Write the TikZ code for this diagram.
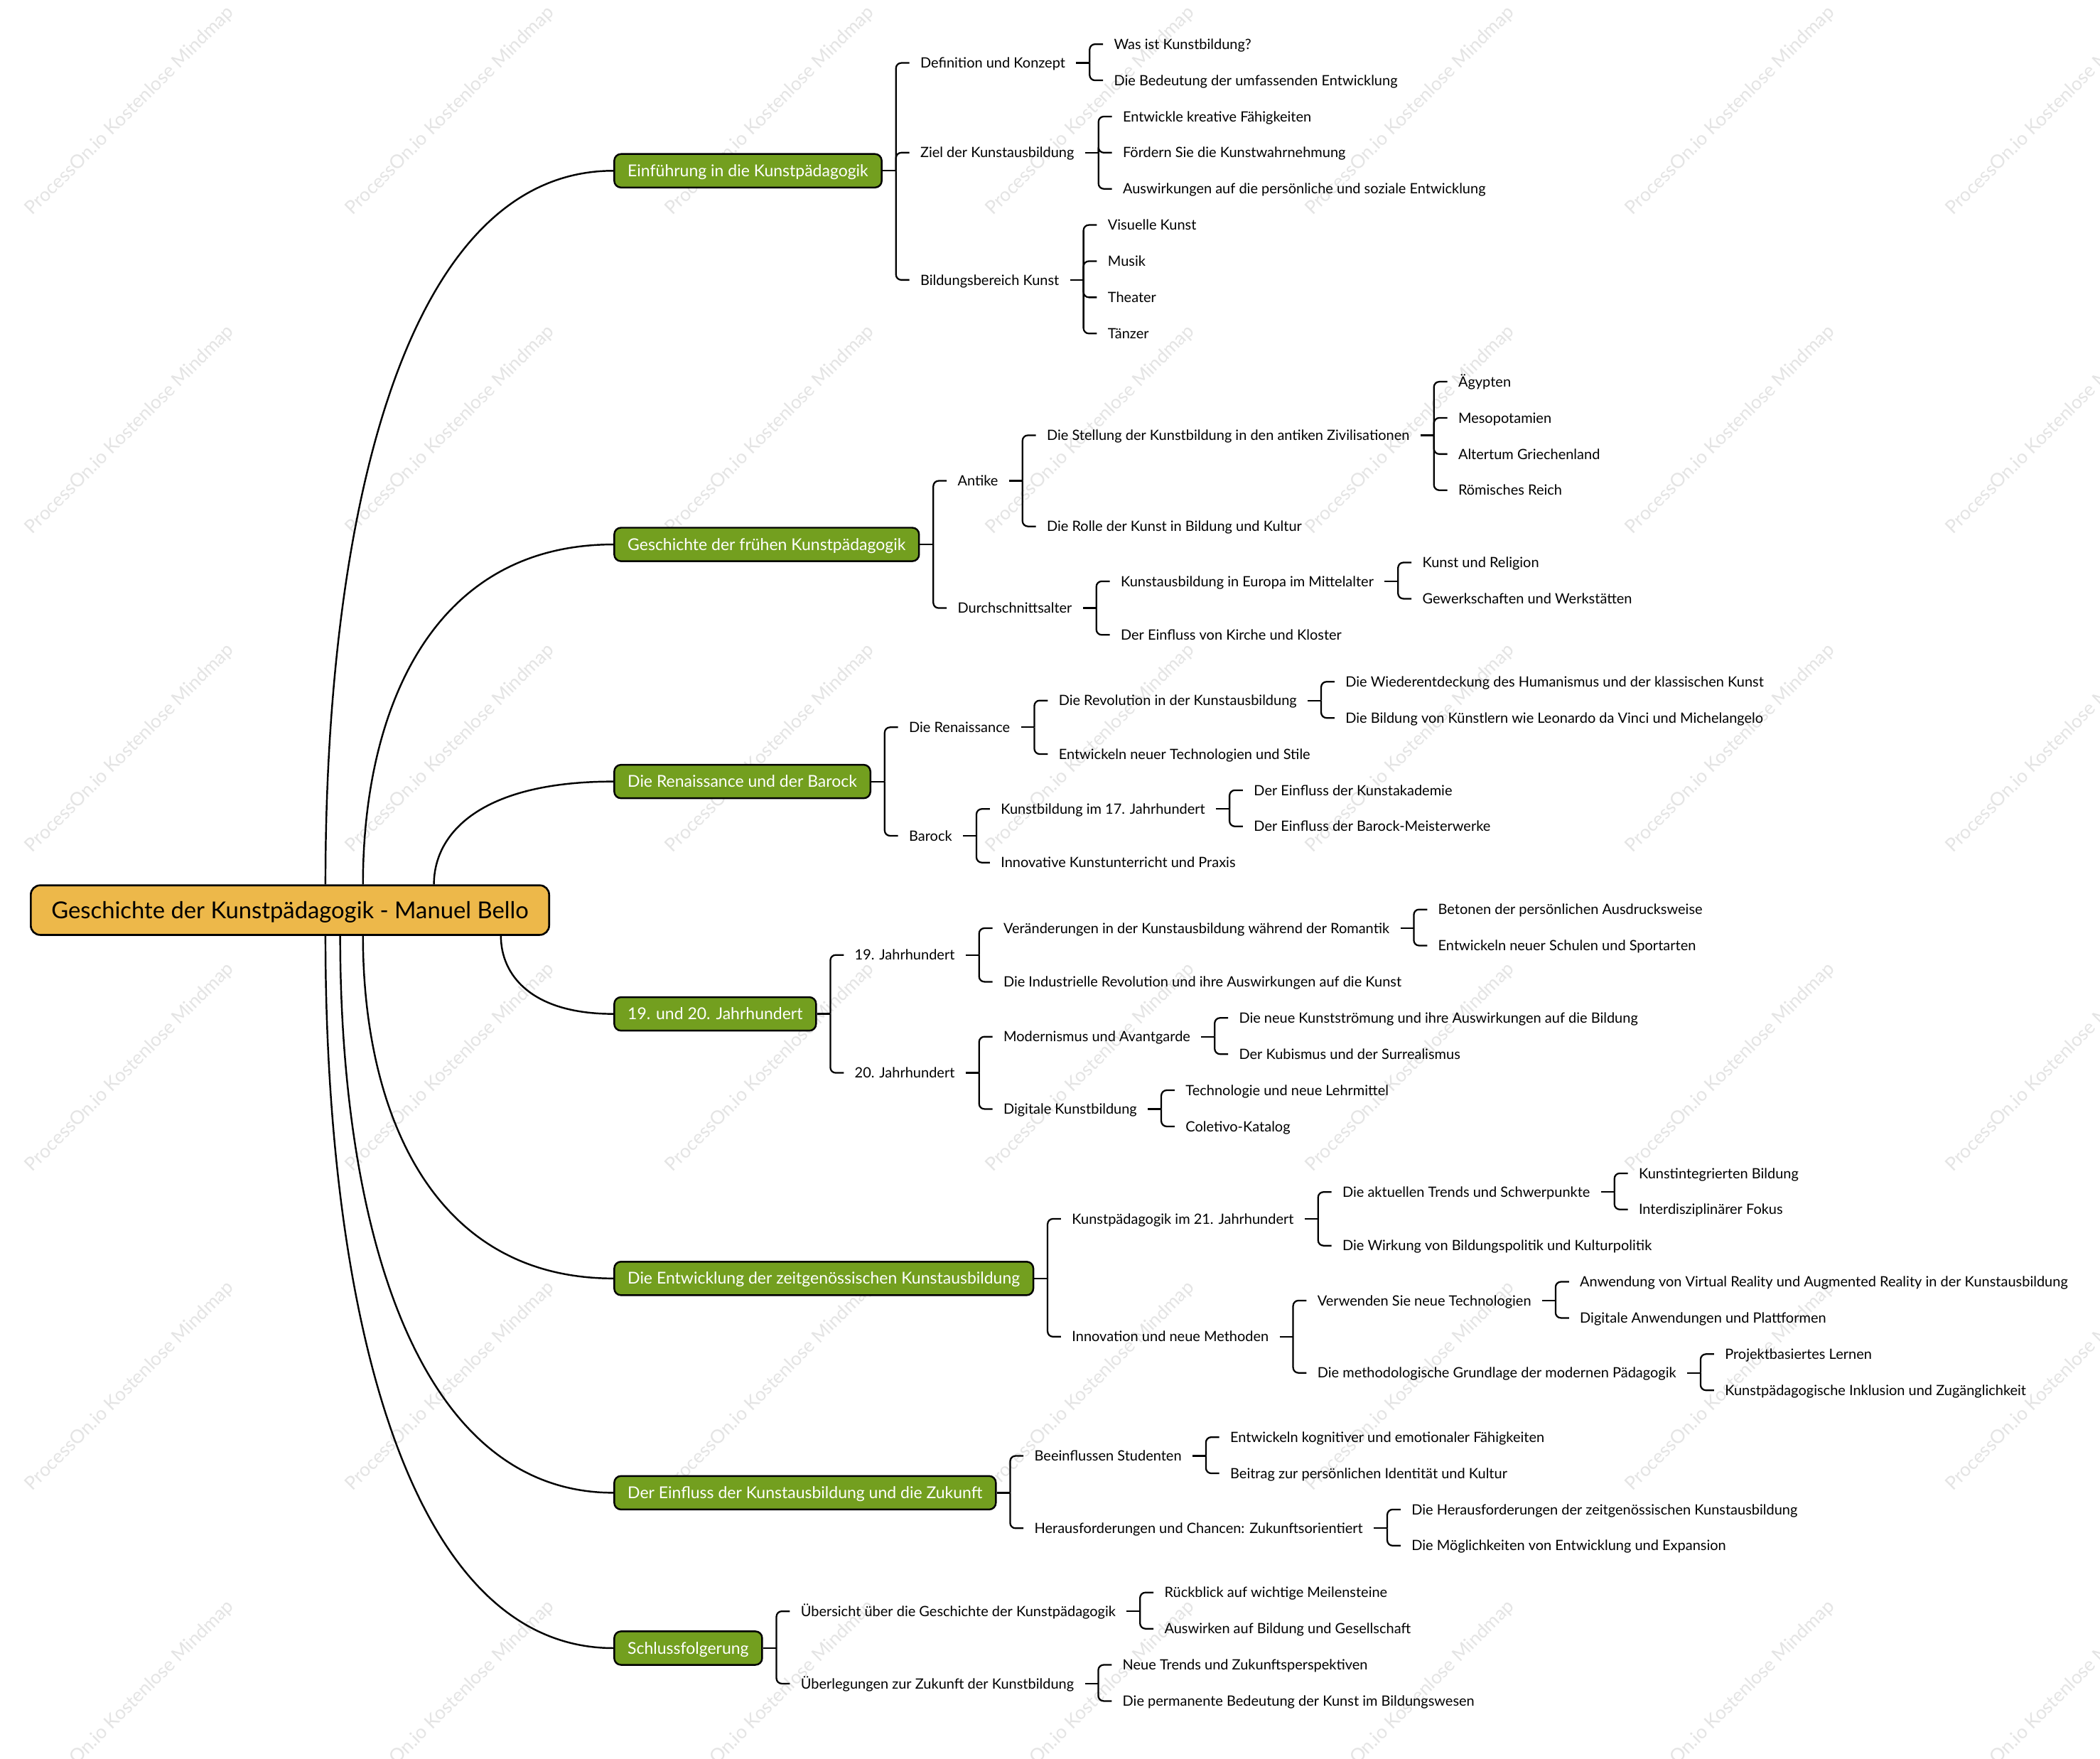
\documentclass[tikz,border=0pt]{standalone}
\usepackage{fontspec}
\setmainfont{Lato}
\usepackage{xcolor}
\usepackage{tikz}
\definecolor{leafgreen}{HTML}{739F1F}
\definecolor{gold}{HTML}{EDB84A}
\definecolor{wmgray}{HTML}{E4E4E4}

\begin{document}
\begin{tikzpicture}[x=1pt, y=-1pt,
    root/.style={fill=gold, draw=black, line width=1.4pt, rounded corners=7pt, minimum width=387pt, minimum height=37pt, text height=12.4pt, text depth=0pt, font=\fontsize{17.4}{21}\selectfont},
    main/.style={anchor=west, fill=leafgreen, draw=black, line width=1.3pt, rounded corners=5pt, text=white, minimum height=25pt, inner xsep=10pt, text height=8.6pt, text depth=0pt, font=\fontsize{12.2}{14}\selectfont},
    topic/.style={anchor=west, xshift=20pt, inner xsep=8pt, inner ysep=0pt, text height=7.6pt, text depth=0pt, font=\fontsize{10.6}{12}\selectfont},
    branch/.style={line width=1.3pt},
    link/.style={line width=1.2pt},
    arm/.style={link, rounded corners=4pt},
    wmark/.style={text=wmgray, rotate=45, font=\fontsize{14}{16}\selectfont}
]
    \path[use as bounding box, fill=white] (0,0) rectangle (1568,1313.2);

    % Wasserzeichen
    \foreach \i in {0,...,6}
        \foreach \j in {0,...,5}
            \node[wmark] (wm-\i-\j) at ({97+239*\i},{83+238*\j}) {ProcessOn.io Kostenlose Mindmap};

    % Wurzel
    \node[root] (root) at (216.5,679.5) {Geschichte der Kunstpädagogik - Manuel Bello};

    % Hauptäste
    \node[main] (intro)   at (458,127.5)  {Einführung in die Kunstpädagogik};
    \node[main] (early)   at (458,406.5)  {Geschichte der frühen Kunstpädagogik};
    \node[main] (renaiss) at (458,583.5)  {Die Renaissance und der Barock};
    \node[main] (century) at (458,757)    {19. und 20. Jahrhundert};
    \node[main] (today)   at (458,954.5)  {Die Entwicklung der zeitgenössischen Kunstausbildung};
    \node[main] (impact)  at (458,1114.5) {Der Einfluss der Kunstausbildung und die Zukunft};
    \node[main] (concl)   at (458,1230.5) {Schlussfolgerung};

    % Kurven von der Wurzel
    \draw[branch] (243,0 |- root.north) .. controls (243,394) and (299,127.5) .. (intro.west);
    \draw[branch] (271,0 |- root.north) .. controls (271,534) and (320,406.5) .. (early.west);
    \draw[branch] (324,0 |- root.north) .. controls (324,622) and (359,583.5) .. (renaiss.west);
    \draw[branch] (374,0 |- root.south) .. controls (374,727.5) and (396,757) .. (century.west);
    \draw[branch] (271,0 |- root.south) .. controls (271,826) and (320,954.5) .. (today.west);
    \draw[branch] (254,0 |- root.south) .. controls (254,906) and (307,1114.5) .. (impact.west);
    \draw[branch] (243,0 |- root.south) .. controls (243,964) and (299,1230.5) .. (concl.west);

    % Einführung
    \node[topic] (def)     at (intro.east |- 0,47)  {Definition und Konzept};
    \node[topic] (goal)    at (intro.east |- 0,114) {Ziel der Kunstausbildung};
    \node[topic] (field)   at (intro.east |- 0,209) {Bildungsbereich Kunst};
    \node[topic] (def-1)   at (def.east |- 0,33)    {Was ist Kunstbildung?};
    \node[topic] (def-2)   at (def.east |- 0,60)    {Die Bedeutung der umfassenden Entwicklung};
    \node[topic] (goal-1)  at (goal.east |- 0,87)   {Entwickle kreative Fähigkeiten};
    \node[topic] (goal-2)  at (goal.east |- 0,114)  {Fördern Sie die Kunstwahrnehmung};
    \node[topic] (goal-3)  at (goal.east |- 0,141)  {Auswirkungen auf die persönliche und soziale Entwicklung};
    \node[topic] (field-1) at (field.east |- 0,168) {Visuelle Kunst};
    \node[topic] (field-2) at (field.east |- 0,195) {Musik};
    \node[topic] (field-3) at (field.east |- 0,222) {Theater};
    \node[topic] (field-4) at (field.east |- 0,249) {Tänzer};

    % Frühe Kunstpädagogik
    \node[topic] (antike)     at (early.east |- 0,359)    {Antike};
    \node[topic] (mittel)     at (early.east |- 0,454)    {Durchschnittsalter};
    \node[topic] (stellung)   at (antike.east |- 0,325)   {Die Stellung der Kunstbildung in den antiken Zivilisationen};
    \node[topic] (rolle)      at (antike.east |- 0,393)   {Die Rolle der Kunst in Bildung und Kultur};
    \node[topic] (stellung-1) at (stellung.east |- 0,285) {Ägypten};
    \node[topic] (stellung-2) at (stellung.east |- 0,312) {Mesopotamien};
    \node[topic] (stellung-3) at (stellung.east |- 0,339) {Altertum Griechenland};
    \node[topic] (stellung-4) at (stellung.east |- 0,366) {Römisches Reich};
    \node[topic] (europa)     at (mittel.east |- 0,434)   {Kunstausbildung in Europa im Mittelalter};
    \node[topic] (kirche)     at (mittel.east |- 0,474)   {Der Einfluss von Kirche und Kloster};
    \node[topic] (europa-1)   at (europa.east |- 0,420)   {Kunst und Religion};
    \node[topic] (europa-2)   at (europa.east |- 0,447)   {Gewerkschaften und Werkstätten};

    % Renaissance und Barock
    \node[topic] (ren)     at (renaiss.east |- 0,543) {Die Renaissance};
    \node[topic] (barock)  at (renaiss.east |- 0,624) {Barock};
    \node[topic] (rev)     at (ren.east |- 0,523)     {Die Revolution in der Kunstausbildung};
    \node[topic] (stile)   at (ren.east |- 0,563)     {Entwickeln neuer Technologien und Stile};
    \node[topic] (rev-1)   at (rev.east |- 0,509)     {Die Wiederentdeckung des Humanismus und der klassischen Kunst};
    \node[topic] (rev-2)   at (rev.east |- 0,536)     {Die Bildung von Künstlern wie Leonardo da Vinci und Michelangelo};
    \node[topic] (jh17)    at (barock.east |- 0,604)  {Kunstbildung im 17. Jahrhundert};
    \node[topic] (praxis)  at (barock.east |- 0,644)  {Innovative Kunstunterricht und Praxis};
    \node[topic] (jh17-1)  at (jh17.east |- 0,590)    {Der Einfluss der Kunstakademie};
    \node[topic] (jh17-2)  at (jh17.east |- 0,617)    {Der Einfluss der Barock-Meisterwerke};

    % 19. und 20. Jahrhundert
    \node[topic] (jh19)    at (century.east |- 0,713) {19. Jahrhundert};
    \node[topic] (jh20)    at (century.east |- 0,801) {20. Jahrhundert};
    \node[topic] (romantik) at (jh19.east |- 0,693)   {Veränderungen in der Kunstausbildung während der Romantik};
    \node[topic] (industrie) at (jh19.east |- 0,733)  {Die Industrielle Revolution und ihre Auswirkungen auf die Kunst};
    \node[topic] (romantik-1) at (romantik.east |- 0,679) {Betonen der persönlichen Ausdrucksweise};
    \node[topic] (romantik-2) at (romantik.east |- 0,706) {Entwickeln neuer Schulen und Sportarten};
    \node[topic] (avant)   at (jh20.east |- 0,774)    {Modernismus und Avantgarde};
    \node[topic] (digital) at (jh20.east |- 0,828)    {Digitale Kunstbildung};
    \node[topic] (avant-1) at (avant.east |- 0,760)   {Die neue Kunstströmung und ihre Auswirkungen auf die Bildung};
    \node[topic] (avant-2) at (avant.east |- 0,787)   {Der Kubismus und der Surrealismus};
    \node[topic] (digital-1) at (digital.east |- 0,814) {Technologie und neue Lehrmittel};
    \node[topic] (digital-2) at (digital.east |- 0,841) {Coletivo-Katalog};

    % Zeitgenössische Kunstausbildung
    \node[topic] (jh21)    at (today.east |- 0,910)   {Kunstpädagogik im 21. Jahrhundert};
    \node[topic] (methode) at (today.east |- 0,998)   {Innovation und neue Methoden};
    \node[topic] (trends)  at (jh21.east |- 0,890)    {Die aktuellen Trends und Schwerpunkte};
    \node[topic] (politik) at (jh21.east |- 0,930)    {Die Wirkung von Bildungspolitik und Kulturpolitik};
    \node[topic] (trends-1) at (trends.east |- 0,876) {Kunstintegrierten Bildung};
    \node[topic] (trends-2) at (trends.east |- 0,903) {Interdisziplinärer Fokus};
    \node[topic] (technik) at (methode.east |- 0,971) {Verwenden Sie neue Technologien};
    \node[topic] (grund)   at (methode.east |- 0,1025) {Die methodologische Grundlage der modernen Pädagogik};
    \node[topic] (technik-1) at (technik.east |- 0,957) {Anwendung von Virtual Reality und Augmented Reality in der Kunstausbildung};
    \node[topic] (technik-2) at (technik.east |- 0,984) {Digitale Anwendungen und Plattformen};
    \node[topic] (grund-1) at (grund.east |- 0,1011)  {Projektbasiertes Lernen};
    \node[topic] (grund-2) at (grund.east |- 0,1038)  {Kunstpädagogische Inklusion und Zugänglichkeit};

    % Einfluss und Zukunft
    \node[topic] (student) at (impact.east |- 0,1087) {Beeinflussen Studenten};
    \node[topic] (chance)  at (impact.east |- 0,1141) {Herausforderungen und Chancen: Zukunftsorientiert};
    \node[topic] (student-1) at (student.east |- 0,1073) {Entwickeln kognitiver und emotionaler Fähigkeiten};
    \node[topic] (student-2) at (student.east |- 0,1100) {Beitrag zur persönlichen Identität und Kultur};
    \node[topic] (chance-1) at (chance.east |- 0,1127) {Die Herausforderungen der zeitgenössischen Kunstausbildung};
    \node[topic] (chance-2) at (chance.east |- 0,1154) {Die Möglichkeiten von Entwicklung und Expansion};

    % Schlussfolgerung
    \node[topic] (rueck)   at (concl.east |- 0,1203)  {Übersicht über die Geschichte der Kunstpädagogik};
    \node[topic] (zukunft) at (concl.east |- 0,1257)  {Überlegungen zur Zukunft der Kunstbildung};
    \node[topic] (rueck-1) at (rueck.east |- 0,1189)  {Rückblick auf wichtige Meilensteine};
    \node[topic] (rueck-2) at (rueck.east |- 0,1216)  {Auswirken auf Bildung und Gesellschaft};
    \node[topic] (zukunft-1) at (zukunft.east |- 0,1243) {Neue Trends und Zukunftsperspektiven};
    \node[topic] (zukunft-2) at (zukunft.east |- 0,1270) {Die permanente Bedeutung der Kunst im Bildungswesen};

    % Klammern: Stummel zum Elternknoten, Arme zu den Kindern
    \foreach \p/\kids in {intro/{def,goal,field}, def/{def-1,def-2}, goal/{goal-1,goal-2,goal-3},
            field/{field-1,field-2,field-3,field-4},
            early/{antike,mittel}, antike/{stellung,rolle}, stellung/{stellung-1,stellung-2,stellung-3,stellung-4},
            mittel/{europa,kirche}, europa/{europa-1,europa-2},
            renaiss/{ren,barock}, ren/{rev,stile}, rev/{rev-1,rev-2}, barock/{jh17,praxis}, jh17/{jh17-1,jh17-2},
            century/{jh19,jh20}, jh19/{romantik,industrie}, romantik/{romantik-1,romantik-2},
            jh20/{avant,digital}, avant/{avant-1,avant-2}, digital/{digital-1,digital-2},
            today/{jh21,methode}, jh21/{trends,politik}, trends/{trends-1,trends-2},
            methode/{technik,grund}, technik/{technik-1,technik-2}, grund/{grund-1,grund-2},
            impact/{student,chance}, student/{student-1,student-2}, chance/{chance-1,chance-2},
            concl/{rueck,zukunft}, rueck/{rueck-1,rueck-2}, zukunft/{zukunft-1,zukunft-2}} {
        \draw[link] (\p.east) -- ++(10,0) coordinate (\p-s);
        \foreach \k in \kids
            \draw[arm] (\p-s) |- (\k.west);
    }

\end{tikzpicture}
\end{document}
